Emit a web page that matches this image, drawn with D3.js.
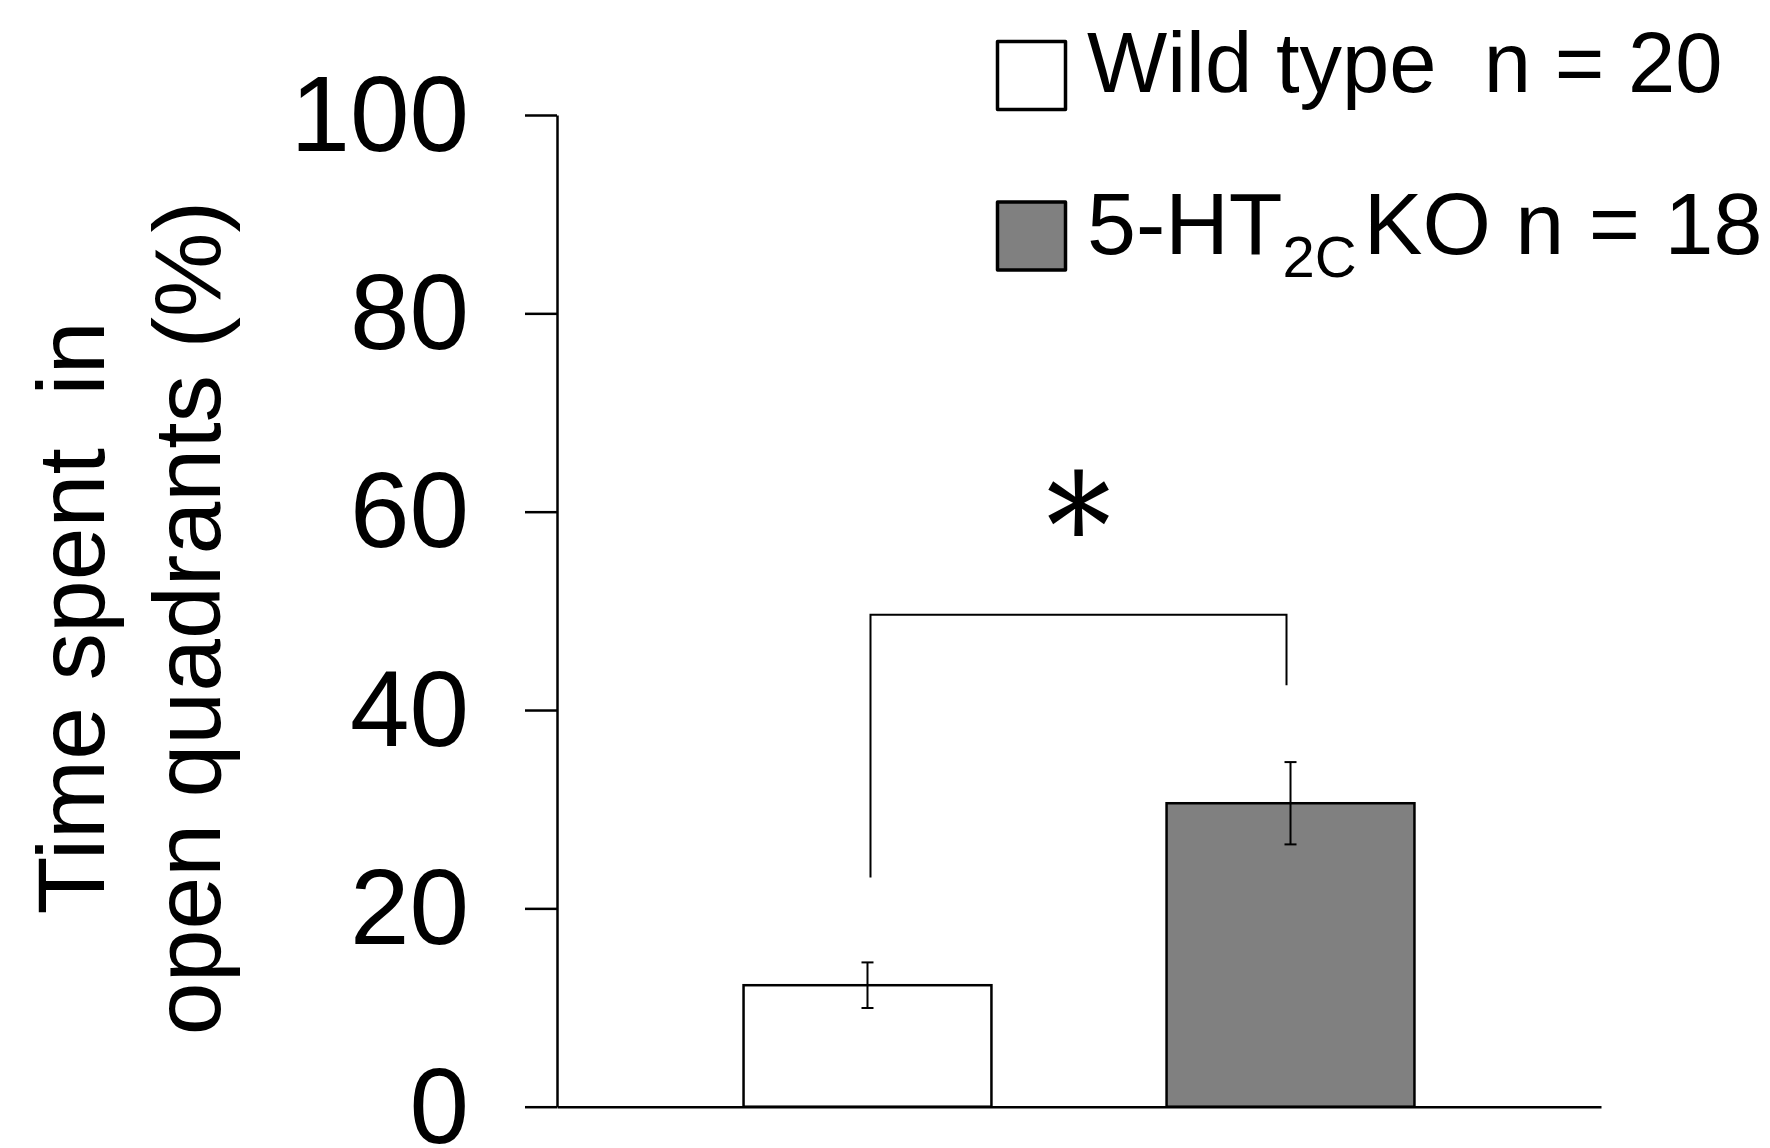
<!DOCTYPE html>
<html>
<head>
<meta charset="utf-8">
<script src="https://cdn.jsdelivr.net/npm/d3@7"></script>
<style>
  body { margin: 0; background: #fff; }
  text { font-family: "Liberation Sans", Arial, sans-serif; fill: #000; }
</style>
</head>
<body>
<div id="chart"></div>
<script>
// data (mean +/- SEM, %)
var groups = ["Wild type", "5-HT2C KO"];
var means = [12.25, 30.6];
var sems = [2.3, 4.15];
var nValues = [20, 18];
var yTicks = [0, 20, 40, 60, 80, 100];
// significance bracket: left foot, top, right foot (in %)
var bracket = [23.1, 49.6, 42.5];
var starLevel = 61;

var data = groups.map(function(g, i) {
  return {group: g, mean: means[i], sem: sems[i], n: nValues[i]};
});

var margin = {top: 115, right: 169, bottom: 41.3, left: 557},
    width = 1770 - margin.left - margin.right,
    height = 1148 - margin.top - margin.bottom;

var svg = d3.select("#chart")
  .append("svg")
    .attr("width", 1770)
    .attr("height", 1148)
  .append("g")
    .attr("transform", "translate(" + margin.left + "," + margin.top + ")");

var x = d3.scaleBand()
  .domain(groups)
  .range([0, width])
  .paddingInner(0.414)
  .paddingOuter(0.441);

var y = d3.scaleLinear()
  .domain([0, 100])
  .range([height, 0]);

var fill = d3.scaleOrdinal()
  .domain(groups)
  .range(["#ffffff", "#808080"]);

// y axis
var yAxis = svg.append("g")
  .call(d3.axisLeft(y).tickValues(yTicks).tickSize(32).tickSizeOuter(0).tickPadding(56))
  .attr("font-size", null)
  .attr("font-family", null);
yAxis.selectAll("line, path").attr("stroke", "#000").attr("stroke-width", 2.5);
yAxis.selectAll("text").attr("font-size", 107).attr("dy", "0.33em");

// x axis (baseline only)
var xAxis = svg.append("g")
  .attr("transform", "translate(0," + height + ")")
  .call(d3.axisBottom(x).tickSize(0).tickSizeOuter(0).tickFormat(""));
xAxis.select("path").attr("stroke", "#000").attr("stroke-width", 2.5);

// bars
svg.selectAll("rect.bar")
  .data(data)
  .enter()
  .append("rect")
    .attr("class", "bar")
    .attr("x", function(d) { return x(d.group); })
    .attr("y", function(d) { return y(d.mean); })
    .attr("width", x.bandwidth())
    .attr("height", function(d) { return height - y(d.mean); })
    .attr("fill", function(d) { return fill(d.group); })
    .attr("stroke", "#000")
    .attr("stroke-width", 2.5);

// error bars
var cx = function(d) { return x(d.group) + x.bandwidth() / 2; };
var err = svg.selectAll("g.err")
  .data(data)
  .enter()
  .append("g")
    .attr("class", "err")
    .attr("stroke", "#000")
    .attr("stroke-width", 2);
err.append("line")
  .attr("x1", cx).attr("x2", cx)
  .attr("y1", function(d) { return y(d.mean + d.sem); })
  .attr("y2", function(d) { return y(d.mean - d.sem); });
err.append("line")
  .attr("x1", function(d) { return cx(d) - 6; }).attr("x2", function(d) { return cx(d) + 6; })
  .attr("y1", function(d) { return y(d.mean + d.sem); })
  .attr("y2", function(d) { return y(d.mean + d.sem); });
err.append("line")
  .attr("x1", function(d) { return cx(d) - 6; }).attr("x2", function(d) { return cx(d) + 6; })
  .attr("y1", function(d) { return y(d.mean - d.sem); })
  .attr("y2", function(d) { return y(d.mean - d.sem); });

// significance bracket + star
var bx0 = cx(data[0]) + 3, bx1 = cx(data[1]) - 4;
svg.append("path")
  .attr("d", d3.line()([[bx0, y(bracket[0])], [bx0, y(bracket[1])], [bx1, y(bracket[1])], [bx1, y(bracket[2])]]))
  .attr("fill", "none")
  .attr("stroke", "#000")
  .attr("stroke-width", 2);
svg.append("text")
  .attr("transform", "translate(" + ((bx0 + bx1) / 2) + "," + y(starLevel) + ") scale(0.88,1)")
  .attr("text-anchor", "middle")
  .attr("dy", "0.517em")
  .style("font-family", "'DejaVu Serif', serif")
  .attr("font-size", 147)
  .text("*");

// y axis title
var title = d3.select("svg").append("g")
  .attr("transform", "rotate(-90)")
  .attr("font-size", 95)
  .attr("text-anchor", "middle");
title.append("text").attr("x", -618).attr("y", 104).text("Time spent\u00a0\u00a0in");
title.append("text").attr("x", -618).attr("y", 220).text("open quadrants (%)");

// legend
var legend = d3.select("svg").append("g");
legend.selectAll("rect")
  .data(data)
  .enter()
  .append("rect")
    .attr("x", 997.5)
    .attr("y", function(d, i) { return 41.5 + i * 160.5; })
    .attr("width", 68)
    .attr("height", 68)
    .attr("fill", function(d) { return fill(d.group); })
    .attr("stroke", "#000")
    .attr("stroke-width", 3.5)
    .attr("stroke-linejoin", "round");

legend.append("text")
  .attr("x", 1087).attr("y", 92)
  .attr("font-size", 85)
  .text("Wild type\u00a0\u00a0n = " + nValues[0]);

var l2 = legend.append("text")
  .attr("x", 1087).attr("y", 254)
  .attr("font-size", 88);
l2.append("tspan").text("5-HT");
l2.append("tspan").attr("font-size", 58).attr("dy", 23).text("2C");
l2.append("tspan").attr("dy", -23).attr("dx", 7).text("KO n = " + nValues[1]);
</script>
</body>
</html>
